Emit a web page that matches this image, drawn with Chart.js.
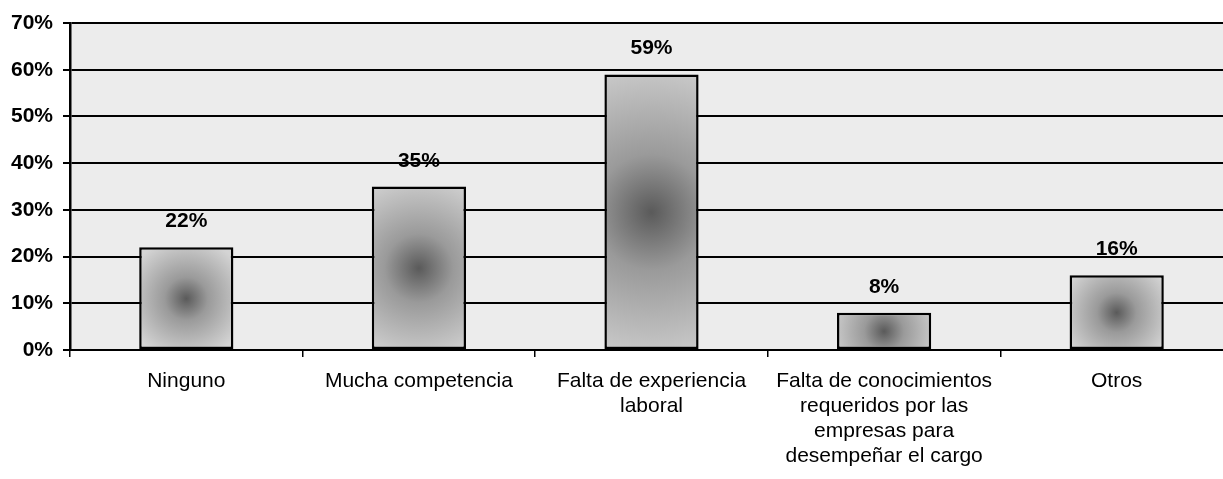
<!DOCTYPE html>
<html lang="es">
<head>
    <meta charset="UTF-8">
    <title>Dificultades para conseguir empleo</title>
    <style>
        html, body {
            margin: 0;
            padding: 0;
            background: #fff;
            overflow: hidden;
        }
        #wrap {
            width: 1233px;
            height: 479px;
        }
    </style>
</head>
<body>
    <div id="wrap">
        <canvas id="chart"></canvas>
    </div>

    <script src="https://cdn.jsdelivr.net/npm/chart.js"></script>
    <script>
        // data
        const categories = [
            "Ninguno",
            "Mucha competencia",
            ["Falta de experiencia", "laboral"],
            ["Falta de conocimientos", "requeridos por las", "empresas para", "desempeñar el cargo"],
            "Otros"
        ];
        const values = [22, 35, 59, 8, 16];
        const yTicks = [0, 10, 20, 30, 40, 50, 60, 70];

        const FONT = "'Liberation Sans', Arial, sans-serif";

        // light gray fill behind the plot
        const plotBackground = {
            id: 'plotBackground',
            beforeDraw(chart) {
                const { ctx, chartArea: a } = chart;
                ctx.save();
                ctx.fillStyle = '#ececec';
                ctx.fillRect(a.left, a.top, a.right - a.left, a.bottom - a.top);
                ctx.restore();
            }
        };

        // percentage labels above each bar
        const barLabels = {
            id: 'barLabels',
            afterDatasetsDraw(chart) {
                const ctx = chart.ctx;
                const meta = chart.getDatasetMeta(0);
                ctx.save();
                ctx.font = 'bold 21px ' + FONT;
                ctx.fillStyle = '#000';
                ctx.textAlign = 'center';
                ctx.textBaseline = 'alphabetic';
                meta.data.forEach((bar, i) => {
                    ctx.fillText(values[i] + '%', bar.x, bar.y - 20);
                });
                ctx.restore();
            }
        };

        // darker centre on each bar, built from the scales
        function barFill(context) {
            const chart = context.chart;
            const x = chart.scales.x, y = chart.scales.y;
            if (!chart.chartArea || !x || !y || context.dataIndex === undefined) return '#b0b0b0';
            const cx = x.getPixelForValue(context.dataIndex);
            const top = y.getPixelForValue(values[context.dataIndex]);
            const base = y.getPixelForValue(0);
            const cy = (top + base) / 2;
            const r = Math.max(94, base - top) * 0.6;
            if (![cx, cy, r].every(isFinite)) return '#b0b0b0';
            const g = chart.ctx.createRadialGradient(cx, cy, 0, cx, cy, r);
            g.addColorStop(0, '#5a5a5a');
            g.addColorStop(0.35, '#9a9a9a');
            g.addColorStop(1, '#d4d4d4');
            return g;
        }

        new Chart(document.getElementById('chart'), {
            type: 'bar',
            data: {
                labels: categories,
                datasets: [{
                    data: values,
                    backgroundColor: barFill,
                    borderColor: '#000',
                    borderWidth: 2.5,
                    borderSkipped: false,
                    categoryPercentage: 1,
                    barPercentage: 0.405
                }]
            },
            options: {
                responsive: true,
                maintainAspectRatio: false,
                animation: false,
                devicePixelRatio: 1,
                layout: { padding: { top: 23, right: 0, bottom: 0, left: 0 } },
                plugins: {
                    legend: { display: false },
                    tooltip: { enabled: false }
                },
                scales: {
                    x: {
                        offset: true,
                        grid: {
                            drawOnChartArea: false,
                            drawTicks: true,
                            tickLength: 7,
                            color: '#000',
                            lineWidth: 1.5
                        },
                        border: { display: true, color: '#000', width: 2 },
                        ticks: {
                            color: '#000',
                            padding: 12,
                            maxRotation: 0,
                            autoSkip: false,
                            font: { family: FONT, size: 21, lineHeight: 1.19 }
                        },
                        afterFit(scale) { scale.height = 129; }
                    },
                    y: {
                        min: 0,
                        max: 70,
                        afterBuildTicks(scale) {
                            scale.ticks = yTicks.map(v => ({ value: v }));
                        },
                        grid: {
                            color: '#000',
                            lineWidth: 2,
                            tickLength: 7
                        },
                        border: { display: true, color: '#000', width: 2.5 },
                        ticks: {
                            color: '#000',
                            padding: 10,
                            font: { family: FONT, size: 21, weight: 'bold' },
                            callback: v => v + '%'
                        },
                        afterFit(scale) { scale.width = 70; }
                    }
                }
            },
            plugins: [plotBackground, barLabels]
        });
    </script>
</body>
</html>
